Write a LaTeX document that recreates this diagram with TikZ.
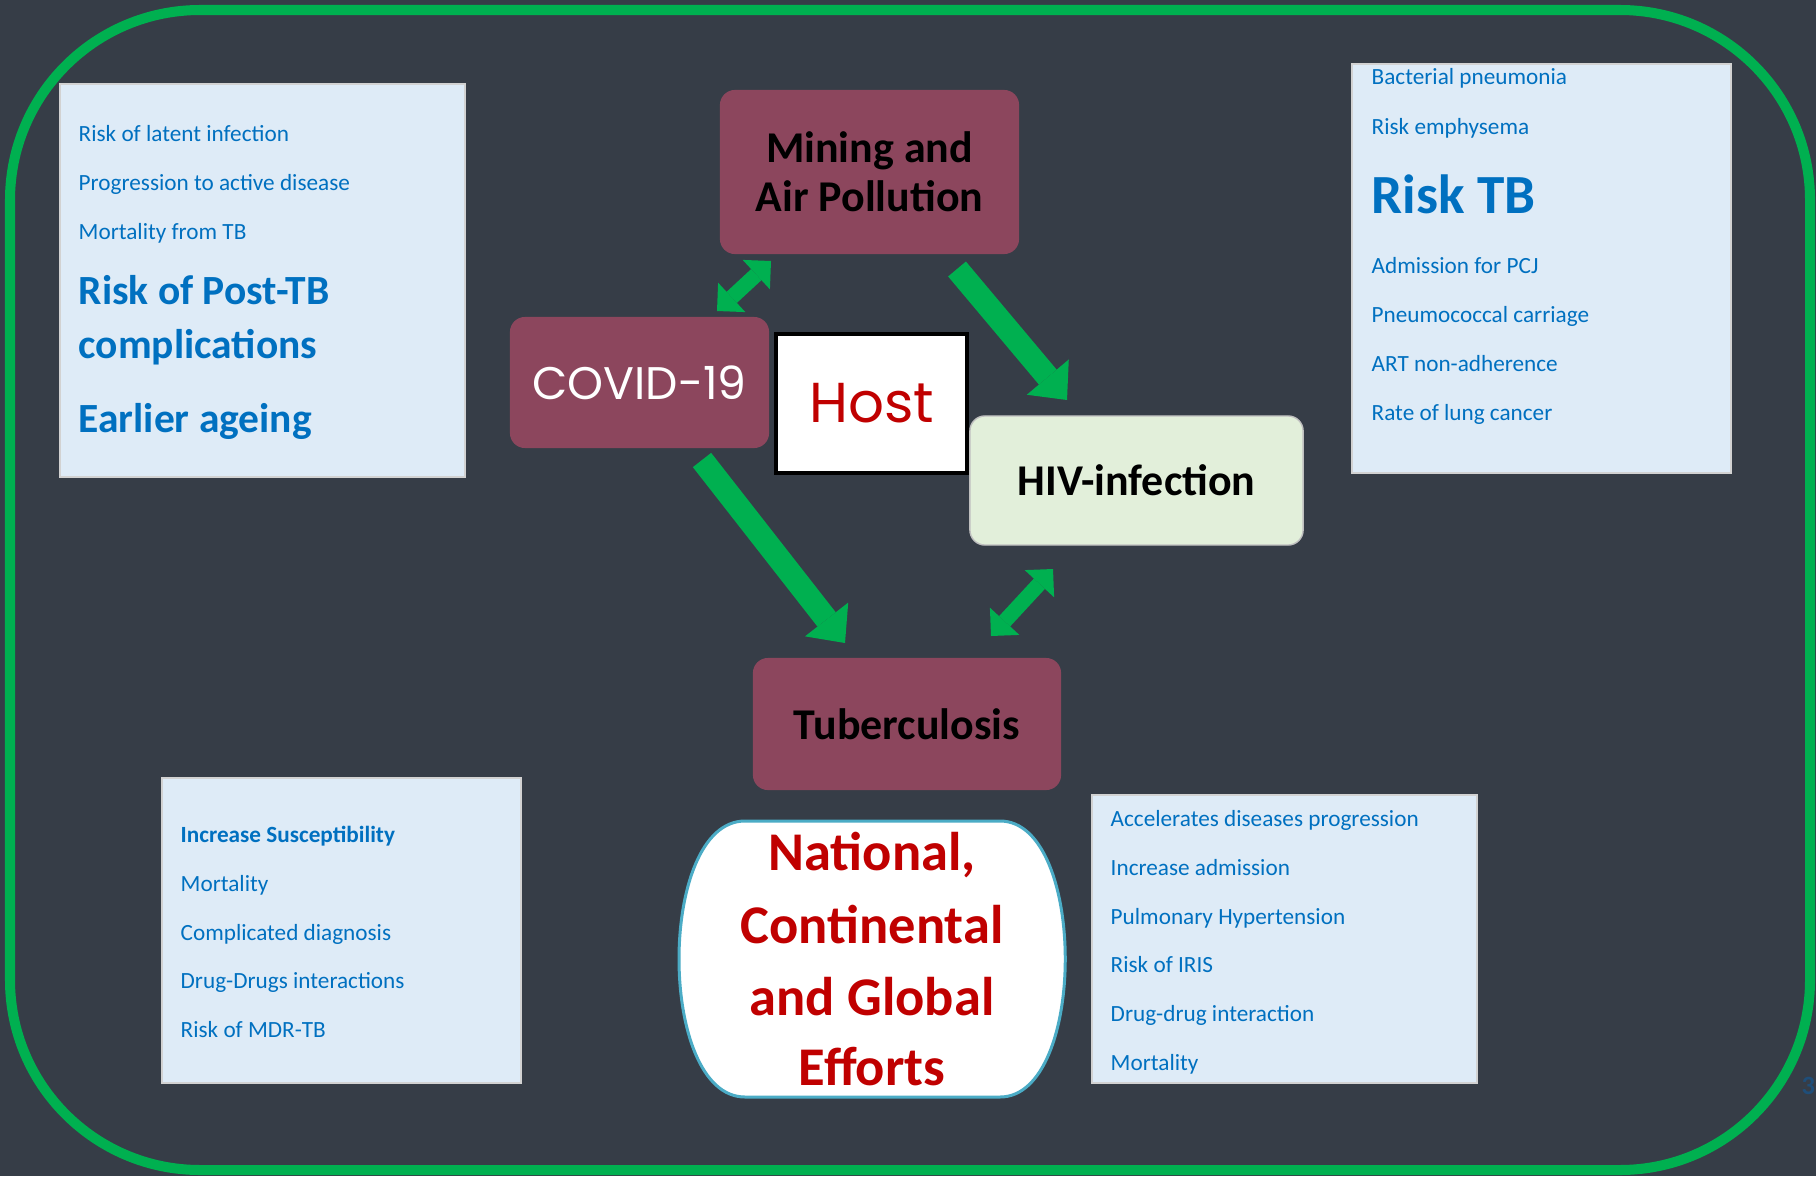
\documentclass[tikz,border=0pt]{standalone}
\usepackage{fontspec}
\setmainfont{Carlito}
\newfontfamily\gothic{Poppins}
\usetikzlibrary{arrows.meta}

\definecolor{slate}{RGB}{54,61,71}
\definecolor{rimgreen}{RGB}{0,176,80}
\definecolor{plum}{RGB}{140,70,93}
\definecolor{mint}{RGB}{226,239,218}
\definecolor{paleblue}{RGB}{222,235,247}
\definecolor{inkblue}{RGB}{0,112,192}
\definecolor{darkred}{RGB}{192,0,0}
\definecolor{skyline}{RGB}{75,172,198}
\definecolor{pagenavy}{RGB}{31,78,121}

\tikzset{
  factor/.style={fill=plum, rounded corners=0.15cm, inner sep=0pt, align=center,
    font=\fontsize{12.5}{13.9}\selectfont\bfseries},
  listbox/.style={fill=paleblue, draw=gray!35, line width=0.4pt, inner sep=0pt},
  item/.style={anchor=base west, text=inkblue, inner sep=0pt, font=\fontsize{6.6}{8}\selectfont},
  bigitem/.style={item, font=\fontsize{11.8}{14}\selectfont\bfseries},
  effort/.style={anchor=base, text=darkred, inner sep=0pt, font=\fontsize{15.5}{18}\selectfont\bfseries},
  bigarrow/.style={rimgreen, line width=6.6pt, -{Triangle[width=15.6pt,length=8.5pt,line width=0pt]}},
  twoway/.style={rimgreen, line width=4.3pt,
    {Triangle[width=11.4pt,length=5.7pt,line width=0pt]}-{Triangle[width=11.4pt,length=5.7pt,line width=0pt]}}
}

\begin{document}
\begin{tikzpicture}[x=0.01cm, y=-0.01cm]

  % background and outer frame
  \fill[slate] (0,0) rectangle (1816,1176);
  \useasboundingbox (0,0) rectangle (1816,1176);
  \draw[rimgreen, line width=2.85pt, rounded corners=1.9cm] (10,10) rectangle (1810,1170);

  % the factors
  \node[factor, minimum width=2.99cm, minimum height=1.64cm] (mining) at (869.5,172) {Mining and\\Air Pollution};
  \node[factor, minimum width=2.59cm, minimum height=1.31cm, text=white,
    font=\gothic\fontsize{13}{15}\selectfont] (covid) at (639.5,382.5) {COVID-19};
  \node[draw=black, line width=0.9pt, fill=white, minimum width=1.91cm, minimum height=1.39cm,
    text=darkred, font=\gothic\fontsize{16}{18}\selectfont] (host) at (871.5,403.5) {Host};
  \node[factor, fill=mint, draw=gray!50, minimum width=3.33cm, minimum height=1.29cm] (hiv) at (1136.5,480.5) {HIV-infection};
  \node[factor, minimum width=3.08cm, minimum height=1.32cm] (tb) at (907,724) {Tuberculosis};

  % arrow ends
  \coordinate (cm1) at (717,311);
  \coordinate (cm2) at (771,261);
  \coordinate (mh1) at (957,269);
  \coordinate (mh2) at (1067,400);
  \coordinate (ct1) at (702,460);
  \coordinate (ct2) at (845,643);
  \coordinate (ht1) at (1053,569);
  \coordinate (ht2) at (991,636);

  % arrows
  \draw[twoway] (cm1) -- (cm2);
  \draw[bigarrow] (mh1) -- (mh2);
  \draw[bigarrow] (ct1) -- (ct2);
  \draw[twoway] (ht1) -- (ht2);

  % efforts
  \draw[fill=white, draw=skyline, line width=0.85pt] (745,821) -- (1000,821)
    .. controls (1087,821) and (1087,1097) .. (1000,1097) -- (745,1097)
    .. controls (657,1097) and (657,821) .. cycle;
  \foreach \yy/\txt [count=\i] in {870/{National,}, 943/Continental, 1015/and Global, 1085/Efforts}
    \node[effort] (nat\i) at (872,\yy) {\txt};

  % post-TB list
  \node[listbox, minimum width=4.05cm, minimum height=3.93cm] (postb) at (262.5,280.5) {};
  \foreach \yy/\txt [count=\i] in {142/Risk of latent infection, 191/Progression to active disease, 239/Mortality from TB}
    \node[item] (postb\i) at (78,\yy) {\txt};
  \node[bigitem] (postb4) at (78,304) {Risk of Post-TB};
  \node[bigitem] (postb5) at (78,358) {complications};
  \node[bigitem] (postb6) at (78,432) {Earlier ageing};

  % HIV list
  \node[listbox, minimum width=3.79cm, minimum height=4.09cm] (hivrisk) at (1541.5,268.5) {};
  \foreach \yy/\txt [count=\i] in {85/Bacterial pneumonia, 134/Risk emphysema, 273/Admission for PCJ,
      322/Pneumococcal carriage, 371/ART non-adherence, 420/Rate of lung cancer}
    \node[item] (hivrisk\i) at (1371,\yy) {\txt};
  \node[item, font=\fontsize{15.7}{18}\selectfont\bfseries] (risktb) at (1371,213) {Risk TB};

  % COVID list
  \node[listbox, minimum width=3.59cm, minimum height=3.05cm] (covrisk) at (341.5,930.5) {};
  \node[item, font=\fontsize{6.6}{8}\selectfont\bfseries] (covrisk1) at (180,842) {Increase Susceptibility};
  \foreach \yy/\txt [count=\i from 2] in {891/Mortality, 940/Complicated diagnosis, 988/Drug-Drugs interactions, 1037/Risk of MDR-TB}
    \node[item] (covrisk\i) at (180,\yy) {\txt};

  % TB list
  \node[listbox, minimum width=3.85cm, minimum height=2.88cm] (tbrisk) at (1284.5,939) {};
  \foreach \yy/\txt [count=\i] in {826/Accelerates diseases progression, 875/Increase admission, 924/Pulmonary Hypertension,
      972/Risk of IRIS, 1021/Drug-drug interaction, 1070/Mortality}
    \node[item] (tbrisk\i) at (1110,\yy) {\txt};

  % page number
  \node[anchor=base west, inner sep=0pt, text=pagenavy, font=\fontsize{7.5}{9}\selectfont\bfseries] (pageno) at (1801,1094) {3};

\end{tikzpicture}
\end{document}
